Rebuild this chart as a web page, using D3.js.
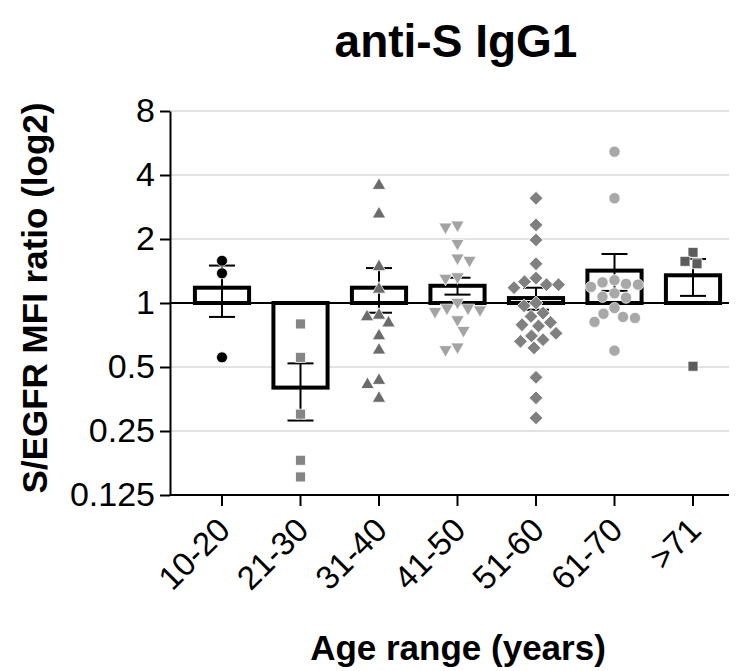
<!DOCTYPE html>
<html>
<head>
<meta charset="utf-8">
<script src="https://cdn.jsdelivr.net/npm/d3@7"></script>
<style>
body { margin: 0; background: #fff; }
svg { font-family: "Liberation Sans", Arial, sans-serif; }
</style>
</head>
<body>
<svg width="737" height="671"></svg>
<script>
// categories and tick labels
var categories = ["10-20", "21-30", "31-40", "41-50", "51-60", "61-70", ">71"];
var yTicks = [0.125, 0.25, 0.5, 1, 2, 4, 8];
var yTickLabels = ["0.125", "0.25", "0.5", "1", "2", "4", "8"];

// individual values per age range
var g1020 = [1.58, 1.38, 0.555];
var g2130 = [0.797, 0.555, 0.30, 0.182, 0.152];
var g3140 = [3.57, 2.62, 1.48, 1.16, 0.875, 0.86, 0.805, 0.70, 0.60, 0.432, 0.413, 0.356];
var g4150 = [2.28, 2.33, 1.91, 1.59, 1.63, 1.31, 1.33, 1.01, 0.947, 0.913, 0.947, 0.93, 0.835, 0.744, 0.604, 0.622];
var g5160 = [3.11, 2.33, 1.98, 1.53, 1.31, 1.26, 1.22, 1.18, 1.22, 1.0, 0.97, 0.897, 0.865, 0.81, 0.79, 0.78, 0.72, 0.70, 0.672, 0.66, 0.615, 0.447, 0.358, 0.288];
var g6170 = [5.15, 3.11, 1.28, 1.25, 1.23, 1.22, 1.19, 1.11, 1.07, 1.06, 0.947, 0.89, 0.86, 0.85, 0.815, 0.597];
var g71 = [1.73, 1.57, 1.53, 0.504];
var groups = [g1020, g2130, g3140, g4150, g5160, g6170, g71];

// bar = mean, whiskers = SEM
var means = [1.18, 0.40, 1.18, 1.205, 1.055, 1.42, 1.35];
var errLow = [0.86, 0.28, 0.90, 1.095, 0.93, 1.14, 1.08];
var errHigh = [1.50, 0.52, 1.46, 1.315, 1.18, 1.70, 1.61];

// marker look per group
var markers = [
  {type: d3.symbolCircle, size: 95, rot: 0, fill: "#000000"},
  {type: d3.symbolSquare, size: 100, rot: 0, fill: "#858585"},
  {type: d3.symbolTriangle, size: 78, rot: 0, fill: "#6b6b6b"},
  {type: d3.symbolTriangle, size: 78, rot: 180, fill: "#a3a3a3"},
  {type: d3.symbolSquare, size: 95, rot: 45, fill: "#808080"},
  {type: d3.symbolCircle, size: 100, rot: 0, fill: "#a8a8a8"},
  {type: d3.symbolSquare, size: 100, rot: 0, fill: "#5c5c5c"}
];

var svg = d3.select("svg");
var plotLeft = 170, plotRight = 729, plotTop = 111, plotBottom = 495;

var x = d3.scaleBand()
  .domain(categories)
  .range([182.75, 732.25])
  .paddingInner(0.31)
  .paddingOuter(0.155);

var y = d3.scaleLog().base(2)
  .domain([0.125, 8])
  .range([plotBottom, plotTop]);

// grid
svg.append("g").selectAll("line")
  .data(yTicks.filter(function(d) { return d != 1 && d != 0.125; }))
  .enter().append("line")
  .attr("x1", plotLeft).attr("x2", plotRight)
  .attr("y1", function(d) { return y(d); })
  .attr("y2", function(d) { return y(d); })
  .attr("stroke", "#d9d9d9")
  .attr("stroke-width", 1.5);

// bars
svg.append("g").selectAll("rect")
  .data(means)
  .enter().append("rect")
  .attr("x", function(d, i) { return x(categories[i]); })
  .attr("width", x.bandwidth())
  .attr("y", function(d) { return Math.min(y(d), y(1)); })
  .attr("height", function(d) { return Math.abs(y(d) - y(1)); })
  .attr("fill", "#fff")
  .attr("stroke", "#000")
  .attr("stroke-width", 4);

// baseline at 1
svg.append("line")
  .attr("x1", plotLeft).attr("x2", plotRight)
  .attr("y1", y(1)).attr("y2", y(1))
  .attr("stroke", "#000")
  .attr("stroke-width", 1.8);

// error bars
var eb = svg.append("g").attr("stroke", "#000").attr("stroke-width", 2);
categories.forEach(function(c, i) {
  var cx = x(c) + x.bandwidth() / 2;
  eb.append("line").attr("x1", cx).attr("x2", cx)
    .attr("y1", y(errLow[i])).attr("y2", y(errHigh[i]));
  [errLow[i], errHigh[i]].forEach(function(v) {
    eb.append("line").attr("x1", cx - 13).attr("x2", cx + 13)
      .attr("y1", y(v)).attr("y2", y(v));
  });
});

// simple swarm so the points do not sit on each other
function swarm(vals, D) {
  var placed = [];
  var offs = new Array(vals.length);
  var order = vals.map(function(v, i) { return i; })
    .sort(function(a, b) { return vals[b] - vals[a]; });
  var flip = 1;
  order.forEach(function(i) {
    var yy = y(vals[i]);
    for (var m = 0; m < 60; m += 0.5) {
      var cands = m == 0 ? [0] : [-m * flip, m * flip];
      var ok = null;
      for (var k = 0; k < cands.length; k++) {
        var hit = placed.some(function(p) {
          return (p[0] - cands[k]) * (p[0] - cands[k]) + (p[1] - yy) * (p[1] - yy) < D * D;
        });
        if (!hit) { ok = cands[k]; break; }
      }
      if (ok !== null) {
        if (ok != 0) flip = -flip;
        offs[i] = ok;
        placed.push([ok, yy]);
        break;
      }
    }
  });
  return offs;
}

groups.forEach(function(vals, gi) {
  var mk = markers[gi];
  var offs = swarm(vals, 12);
  var cx = x(categories[gi]) + x.bandwidth() / 2;
  svg.append("g").selectAll("path")
    .data(vals)
    .enter().append("path")
    .attr("d", d3.symbol().type(mk.type).size(mk.size))
    .attr("transform", function(d, i) {
      return "translate(" + (cx + offs[i]) + "," + y(d) + ") rotate(" + mk.rot + ")";
    })
    .attr("fill", mk.fill)
    .attr("stroke", "#fff")
    .attr("stroke-width", 0.8);
});

// y axis
var yAxis = svg.append("g")
  .attr("transform", "translate(" + plotLeft + ",0)")
  .call(d3.axisLeft(y).tickValues(yTicks)
    .tickFormat(function(d, i) { return yTickLabels[i]; })
    .tickSize(10).tickSizeOuter(0).tickPadding(5));
yAxis.selectAll("path, line").attr("stroke", "#000").attr("stroke-width", 2);
yAxis.selectAll("text").attr("font-size", 34).attr("fill", "#000")
  .attr("font-family", "Liberation Sans, Arial, sans-serif");

// x axis
var xAxis = svg.append("g")
  .attr("transform", "translate(0," + plotBottom + ")")
  .call(d3.axisBottom(x).tickSize(11).tickSizeOuter(0));
xAxis.select(".domain").remove();
xAxis.append("line").attr("x1", plotLeft).attr("x2", plotRight)
  .attr("y1", 0).attr("y2", 0);
xAxis.selectAll("line").attr("stroke", "#000").attr("stroke-width", 2);
xAxis.selectAll("text")
  .attr("y", 0).attr("dy", null)
  .attr("transform", "translate(10,37) rotate(-45)")
  .attr("text-anchor", "end")
  .attr("font-size", 33)
  .attr("fill", "#000")
  .attr("font-family", "Liberation Sans, Arial, sans-serif");

// titles
svg.append("text")
  .attr("x", 456).attr("y", 57)
  .attr("text-anchor", "middle")
  .attr("font-size", 46).attr("font-weight", "bold")
  .text("anti-S IgG1");

svg.append("text")
  .attr("x", 458).attr("y", 660)
  .attr("text-anchor", "middle")
  .attr("font-size", 35).attr("font-weight", "bold")
  .text("Age range (years)");

svg.append("text")
  .attr("transform", "translate(47,298) rotate(-90)")
  .attr("text-anchor", "middle")
  .attr("font-size", 35).attr("font-weight", "bold")
  .text("S/EGFR MFI ratio (log2)");
</script>
</body>
</html>
